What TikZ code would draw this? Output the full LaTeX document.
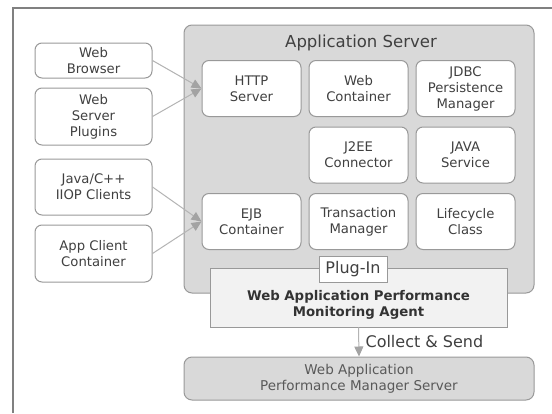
\documentclass[tikz,border=0pt]{standalone}
\usepackage{fontspec}
\setmainfont{DejaVu Sans}
\usetikzlibrary{arrows.meta}
\definecolor{edge}{HTML}{999999}
\definecolor{shade}{HTML}{D9D9D9}
\definecolor{pale}{HTML}{F2F2F2}
\definecolor{ink}{HTML}{404040}
\definecolor{feedcol}{HTML}{B4B4B4}
\tikzset{
    client/.style={draw=edge, line width=1pt, fill=white, rounded corners=7pt, align=center, text=ink,
        minimum width=117pt, font=\fontsize{13.2}{16}\selectfont, inner sep=0pt},
    part/.style={draw=edge, line width=1pt, fill=white, rounded corners=7pt, align=center, text=ink,
        minimum width=99pt, minimum height=56pt, font=\fontsize{13.2}{16}\selectfont, inner sep=0pt},
    feed/.style={draw=feedcol, line width=1pt, -{Triangle[length=10pt,width=9pt,color=edge!90]}}
}
\begin{document}
\begin{tikzpicture}[x=1pt,y=-1pt]
            \fill[white] (0,0) rectangle (552,413);
            \useasboundingbox (0,0) rectangle (552,413);
            \draw[gray,line width=1.2pt] (13,413) -- (13,8) -- (552,8);
            % application server
            \filldraw[draw=edge,fill=shade,line width=1pt,rounded corners=8pt] (184,25) rectangle (534,293);
            \node[text=ink,font=\fontsize{16.5}{18}\selectfont] (appsrv) at (361,43) {Application Server};
            \node[part] (http) at (251.5,88.5) {HTTP\\Server};
            \node[part] (webc) at (358.5,88.5) {Web\\Container};
            \node[part] (jdbc) at (465.5,88.5) {JDBC\\Persistence\\Manager};
            \node[part] (j2ee) at (358.5,155) {J2EE\\Connector};
            \node[part] (java) at (465.5,155) {JAVA\\Service};
            \node[part] (ejb) at (251.5,221.5) {EJB\\Container};
            \node[part] (trans) at (358.5,221.5) {Transaction\\Manager};
            \node[part] (life) at (465.5,221.5) {Lifecycle\\Class};
            % clients
            \node[client,minimum height=35pt] (browser) at (93.5,60.5) {Web\\Browser};
            \node[client,minimum height=57pt] (plugins) at (93.5,116.5) {Web\\Server\\Plugins};
            \node[client,minimum height=56pt] (iiop) at (93.5,187) {Java/C++\\IIOP Clients};
            \node[client,minimum height=57pt] (appcl) at (93.5,253.5) {App Client\\Container};
            \draw[feed] (browser.east) -- (http.west);
            \draw[feed] (plugins.east) -- (http.west);
            \draw[feed] (iiop.east) -- (ejb.west);
            \draw[feed] (appcl.east) -- (ejb.west);
            % agent
            \node[draw=edge,fill=pale,line width=0.8pt,minimum width=297pt,minimum height=59pt] (agent) at (358.5,297.5) {};
            \node[text=black!80,align=center,font=\bfseries\fontsize{13.3}{16}\selectfont] (agenttxt) at (358.5,305) {Web Application Performance\\Monitoring Agent};
            \node[draw=edge,fill=white,line width=0.8pt,text=ink,minimum width=68pt,minimum height=26pt,inner sep=0pt,font=\fontsize{16}{16}\selectfont] (plugin) at (353,269) {Plug-In};
            % manager
            \node[draw=edge,fill=shade,line width=1pt,rounded corners=8pt,minimum width=350pt,minimum height=43pt,align=center,text=black!65,font=\fontsize{13.5}{16}\selectfont] (mgr) at (359,378.5) {Web Application\\Performance Manager Server};
            \draw[feed] (agent.south) -- (mgr.north) node[midway,anchor=west,text=ink,xshift=3pt,font=\fontsize{16}{16}\selectfont] (collect) {Collect \& Send};
        \end{tikzpicture}
\end{document}
